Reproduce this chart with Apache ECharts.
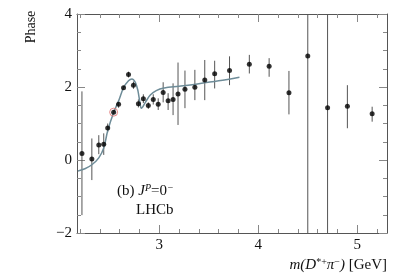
<!DOCTYPE html>
<html>
<head>
<meta charset="utf-8">
<script src="https://cdn.jsdelivr.net/npm/echarts@6/dist/echarts.min.js"></script>
<style>html,body{margin:0;padding:0;background:#fff;}#c{width:407px;height:277px;}</style>
</head>
<body>
<div id="c"></div>
<script>
// Data points: mass [GeV], phase, lower and upper error-bar ends
const massX = [2.22,2.32,2.39,2.44,2.48,2.54,2.59,2.64,2.69,2.74,2.79,2.84,2.89,2.94,2.99,3.04,3.09,3.14,3.19,3.26,3.36,3.46,3.56,3.71,3.91,4.11,4.31,4.50,4.70,4.90,5.15];
const phaseY = [0.18,0.03,0.41,0.43,0.88,1.31,1.53,1.98,2.34,2.05,1.54,1.68,1.49,1.66,1.53,1.85,1.62,1.66,1.81,1.94,1.99,2.19,2.36,2.45,2.62,2.57,1.84,2.85,1.43,1.47,1.27];
const errLow = [-1.51,-0.55,0.16,0.14,0.76,1.26,1.43,1.93,2.26,1.95,1.44,1.56,1.40,1.52,1.37,1.58,1.37,1.23,0.96,1.42,1.64,1.64,1.96,2.05,2.37,2.28,1.25,-5,-5,0.87,1.05];
const errHigh = [1.88,0.59,0.68,0.73,1.00,1.36,1.63,2.03,2.42,2.15,1.66,1.80,1.58,1.80,1.69,2.13,1.83,2.10,2.67,2.45,2.47,2.74,2.72,2.84,2.88,2.79,2.44,7,7,2.05,1.46];
// Reference point (red circle)
const refX = [2.54];
const refY = [1.31];
// Fit curve
const fitX = [2.18,2.25,2.32,2.39,2.44,2.48,2.54,2.59,2.64,2.69,2.725,2.76,2.785,2.805,2.82,2.86,2.91,2.97,3.05,3.2,3.4,3.6,3.81];
const fitY = [-0.30,-0.24,-0.13,0.06,0.33,0.80,1.30,1.62,1.98,2.17,2.22,2.12,1.90,1.58,1.42,1.58,1.78,1.90,1.97,2.02,2.09,2.17,2.27];
// Axis ticks
const xMajorTicks = [3,4,5];
const xMinorTicks = [2.2,2.4,2.6,2.8,3.2,3.4,3.6,3.8,4.2,4.4,4.6,4.8,5.2];
const yTickMin = -2, yTickMax = 4, yTickStep = 2;
const xMin = 2.17, xMax = 5.3;

const serif = 'Liberation Serif';
const frame = '#555';
const tickCol = '#888';

const chart = echarts.init(document.getElementById('c'));

function xAxisDef(pos, ticks, len, labels, line) {
  return {
    type: 'value', position: pos, min: xMin, max: xMax,
    axisLine: {show: line, onZero: false, lineStyle: {color: frame, width: 1}},
    axisTick: {show: true, inside: true, length: len, customValues: ticks, lineStyle: {color: tickCol}},
    axisLabel: labels ? {show: true, customValues: xMajorTicks, color: '#111', fontFamily: serif, fontSize: 15, margin: 5} : {show: false},
    splitLine: {show: false}
  };
}
function yAxisDef(pos, labels) {
  return {
    type: 'value', position: pos, min: yTickMin, max: yTickMax, interval: yTickStep,
    axisLine: {show: true, onZero: false, lineStyle: {color: frame, width: 1}},
    axisTick: {show: true, inside: true, length: 8, lineStyle: {color: tickCol}},
    minorTick: {show: true, splitNumber: 4, length: 4, lineStyle: {color: tickCol}},
    axisLabel: labels ? {show: true, color: '#111', fontFamily: serif, fontSize: 15, margin: 5,
      formatter: v => String(v).replace('-', '\u2212')} : {show: false},
    splitLine: {show: false}
  };
}

const points = massX.map((x, i) => [x, phaseY[i]]);
const bars = massX.map((x, i) => [x, errLow[i], errHigh[i]]);
const fit = fitX.map((x, i) => [x, fitY[i]]);
const ref = refX.map((x, i) => [x, refY[i]]);

chart.setOption({
  animation: false,
  backgroundColor: '#fff',
  grid: {left: 77, right: 20, top: 14, bottom: 44, containLabel: false},
  xAxis: [
    xAxisDef('bottom', xMajorTicks, 8, true, true),
    xAxisDef('bottom', xMinorTicks, 4, false, false),
    xAxisDef('top', xMajorTicks, 8, false, true),
    xAxisDef('top', xMinorTicks, 4, false, false)
  ],
  yAxis: [yAxisDef('left', true), yAxisDef('right', false)],
  series: [
    {
      type: 'custom', xAxisIndex: 0, yAxisIndex: 0, clip: true, z: 2,
      data: bars,
      renderItem: function (params, api) {
        const lo = api.coord([api.value(0), api.value(1)]);
        const hi = api.coord([api.value(0), api.value(2)]);
        return {type: 'line', shape: {x1: lo[0], y1: lo[1], x2: hi[0], y2: hi[1]},
          style: {stroke: '#555', lineWidth: 1}};
      }
    },
    {
      type: 'line', xAxisIndex: 0, yAxisIndex: 0, data: fit, smooth: 0.35, showSymbol: false, z: 3,
      lineStyle: {color: '#6e8c98', width: 1.5}
    },
    {
      type: 'scatter', xAxisIndex: 0, yAxisIndex: 0, data: points, symbol: 'circle', symbolSize: 5, z: 4,
      itemStyle: {color: '#000'}
    },
    {
      type: 'scatter', xAxisIndex: 0, yAxisIndex: 0, data: ref, symbol: 'circle', symbolSize: 8, z: 5,
      itemStyle: {color: 'rgba(0,0,0,0)', borderColor: '#e07070', borderWidth: 1}
    }
  ],
  graphic: [
    {type: 'text', x: 31, y: 27, rotation: Math.PI / 2,
      style: {text: 'Phase', font: '14px "Liberation Serif"', fill: '#111', align: 'center', verticalAlign: 'middle'}},
    {type: 'text', x: 117, y: 183,
      style: {text: '{n|(b) }{i|J}{s|P}{n|=0}{s|\u2212}', fill: '#111',
        rich: {
          n: {fontFamily: serif, fontSize: 15, verticalAlign: 'bottom', lineHeight: 16},
          i: {fontFamily: serif, fontSize: 15, fontStyle: 'italic', verticalAlign: 'bottom', lineHeight: 16},
          s: {fontFamily: serif, fontSize: 10, fontStyle: 'italic', verticalAlign: 'top', lineHeight: 16}
        }}},
    {type: 'text', x: 136, y: 203,
      style: {text: 'LHCb', font: '15px "Liberation Serif"', fill: '#111'}},
    {type: 'text', x: 387, y: 257,
      style: {text: '{i|m(D}{s|*+}{i|\u03c0}{s|\u2212}{i|)}{n| [GeV]}', fill: '#111', align: 'right',
        rich: {
          n: {fontFamily: serif, fontSize: 15, verticalAlign: 'bottom', lineHeight: 16},
          i: {fontFamily: serif, fontSize: 15, fontStyle: 'italic', verticalAlign: 'bottom', lineHeight: 16},
          s: {fontFamily: serif, fontSize: 10, verticalAlign: 'top', lineHeight: 16}
        }}}
  ]
});
</script>
</body>
</html>
